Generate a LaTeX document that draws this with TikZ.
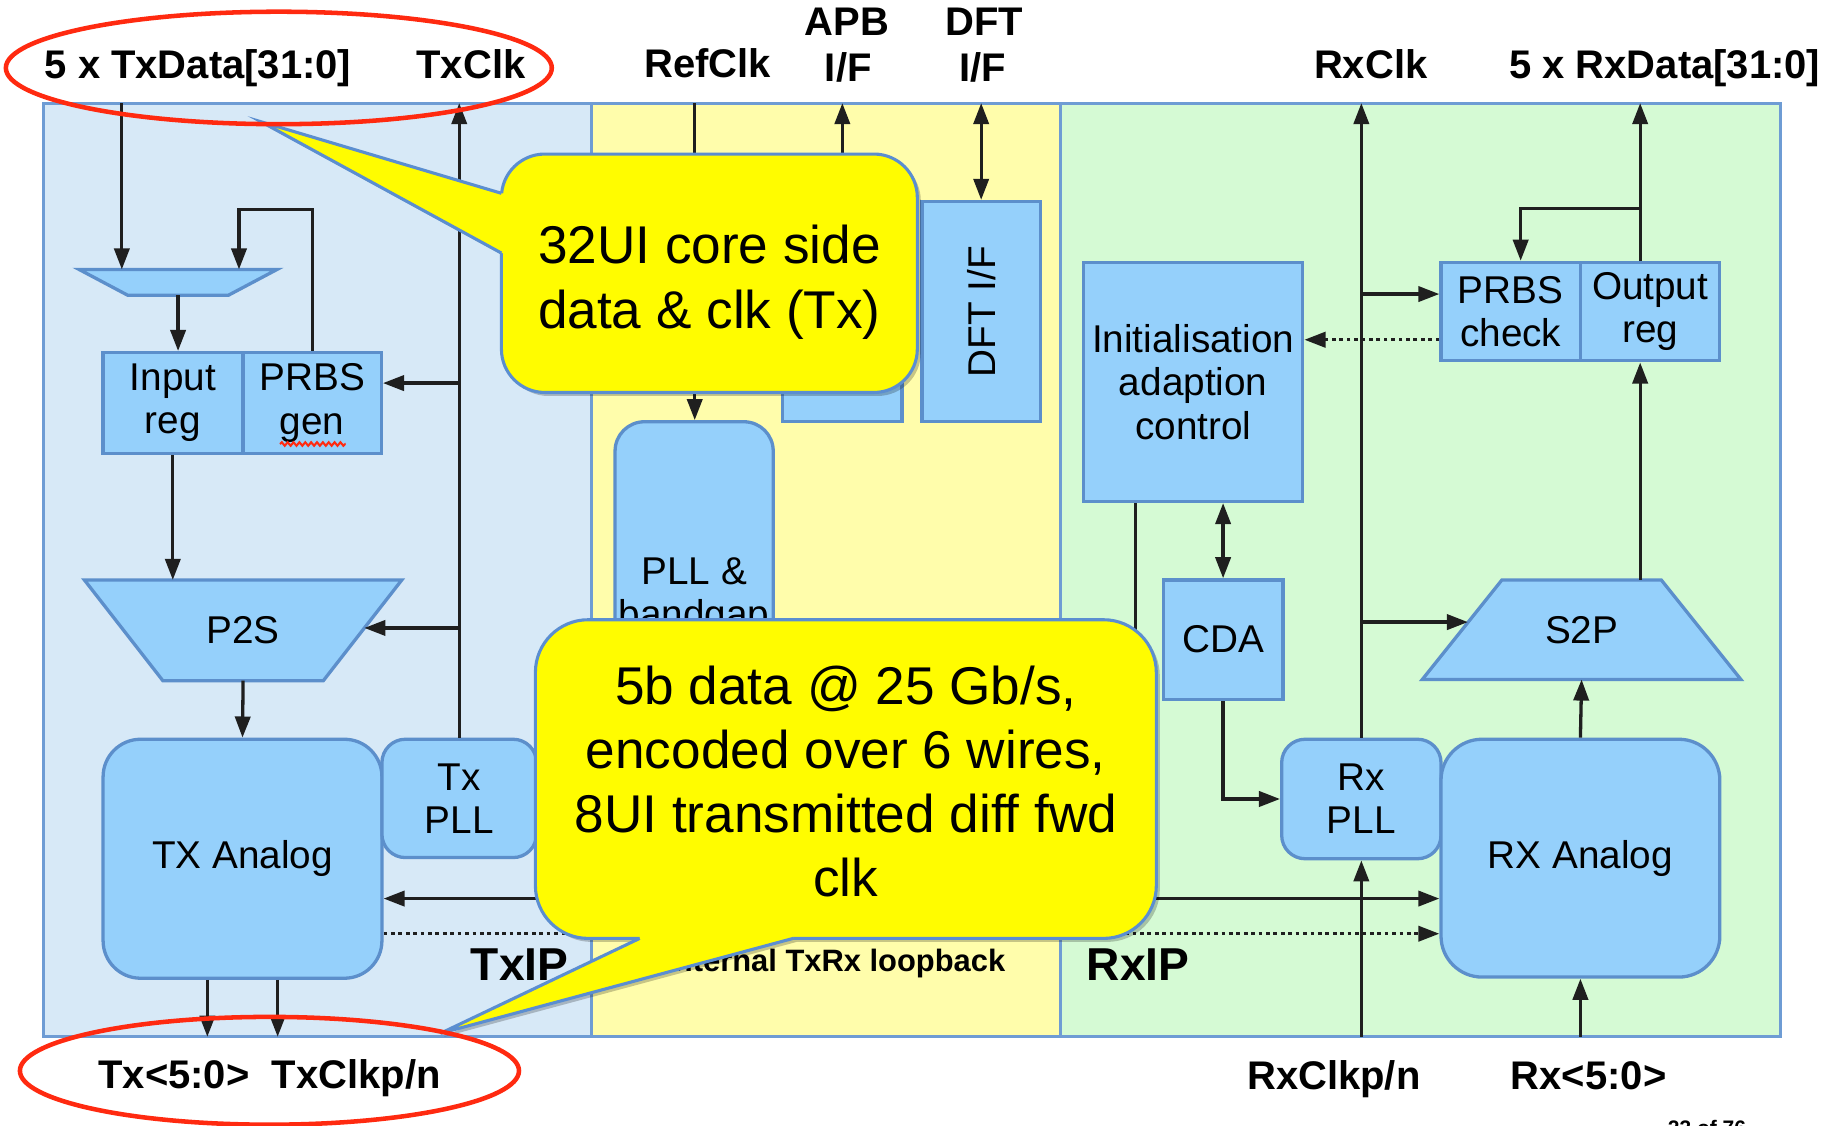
\documentclass[tikz,border=0pt]{standalone}
\usepackage{fontspec}
\setmainfont{Liberation Sans}
\usetikzlibrary{arrows.meta,calc,decorations.pathmorphing}

\definecolor{txbg}{HTML}{D7E9F7}
\definecolor{ybg}{HTML}{FFFDAB}
\definecolor{gbg}{HTML}{D5FAD4}
\definecolor{pbord}{HTML}{6E9CD4}
\definecolor{bfill}{HTML}{95D0FB}
\definecolor{bbord}{HTML}{5C8FCB}
\definecolor{cfill}{HTML}{FFFC00}
\definecolor{cbord}{HTML}{5B8ED0}
\definecolor{ered}{HTML}{FF2A10}

\newcommand\blkfont{\fontsize{9.4}{10.5}\selectfont}
\newcommand\toplblfont{\bfseries\fontsize{9.7}{11.4}\selectfont}
\newcommand\calloutfont{\fontsize{12.9}{15.6}\selectfont}
\newcommand\ipfont{\bfseries\fontsize{11.2}{13}\selectfont}
\newcommand\loopfont{\bfseries\fontsize{7.5}{9}\selectfont}
\newcommand\pagefont{\bfseries\fontsize{5.1}{6}\selectfont}

\begin{document}
\begin{tikzpicture}[x=0.01cm,y=-0.01cm,
  sz/.style 2 args={minimum width=#1*0.01cm,minimum height=#2*0.01cm},
  panel/.style={draw=pbord,line width=0.75pt,inner sep=0pt},
  blk/.style={draw=bbord,fill=bfill,line width=0.8pt,inner sep=0pt,align=center,font=\blkfont},
  blkshape/.style={draw=bbord,fill=bfill,line width=0.8pt},
  shapebox/.style={inner sep=0pt,outer sep=0pt},
  conn/.style={draw=black!88,line width=0.8pt,>={Triangle[length=0.18cm,width=0.13cm]}},
  dotc/.style={conn,dash pattern=on 0.9pt off 0.9pt},
  toplbl/.style={font=\toplblfont,anchor=base,inner sep=0pt},
  iplbl/.style={font=\ipfont,anchor=base,inner sep=0pt},
  callout/.style={draw=cbord,fill=cfill,line width=0.75pt,inner sep=0pt,align=center,font=\calloutfont},
  ctext/.style={inner sep=0pt,align=center,font=\calloutfont},
  shade/.style={fill=black,opacity=0.22}
]
\useasboundingbox (0,0) rectangle (1568,961);
\fill[white] (0,0) rectangle (1568,961);

% panels
\node[panel,fill=txbg,sz={468}{797}] (txp) at (271,486.5) {};
\node[panel,fill=ybg,sz={400}{797}] (yp) at (705,486.5) {};
\node[panel,fill=gbg,sz={615}{797}] (gp) at (1212.5,486.5) {};

% ---- Tx blocks
\node[shapebox,sz={169}{22}] (mux) at (152,241) {};
\draw[blkshape] (mux.north west) -- (mux.north east) -- ($(mux.south east)+(-41.5,0)$) -- ($(mux.south west)+(41.5,0)$) -- cycle;
\node[blk,sz={119}{86}] (inreg) at (147.5,344) {Input\\reg};
\node[blk,sz={118}{86}] (prbsgen) at (266.5,344) {PRBS\\gen};
\node[shapebox,sz={271}{86}] (p2s) at (207.5,538) {};
\draw[blkshape] (p2s.north west) -- (p2s.north east) -- ($(p2s.south east)+(-67,0)$) -- ($(p2s.south west)+(67,0)$) -- cycle;
\node[font=\blkfont,inner sep=0pt] (p2st) at (p2s.center) {P2S};
\node[blk,sz={238}{204},rounded corners=0.32cm] (txa) at (207,733) {TX Analog};
\node[blk,sz={132}{101},rounded corners=0.2cm] (txpll) at (392,681.5) {Tx\\PLL};
\draw[ered,line width=0.5pt,decorate,decoration={snake,segment length=0.05cm,amplitude=0.015cm}] (239,379) -- (295,379);

% ---- middle blocks
\node[blk,sz={135}{360},rounded corners=0.25cm] (pll) at (592.5,540) {};
\node[font=\blkfont,anchor=base,inner sep=0pt] (pllt1) at (592.5,499) {PLL \&};
\node[font=\blkfont,anchor=base,inner sep=0pt] (pllt2) at (592.5,536) {bandgap};
\node[blk,sz={102}{188}] (apb) at (719,266) {};
\node[blk,sz={101}{188}] (dft) at (837.5,266) {\rotatebox{90}{DFT I/F}};

% ---- Rx blocks
\node[blk,sz={187}{204}] (init) at (1018.5,326) {Initialisation\\adaption\\control};
\node[blk,sz={119}{84}] (prbsck) at (1289.5,266) {PRBS\\check};
\node[blk,sz={119}{84}] (outreg) at (1408.5,266) {Output\\reg};
\node[shapebox,sz={272}{85}] (s2p) at (1350,537.5) {};
\draw[blkshape] (s2p.south west) -- (s2p.south east) -- ($(s2p.north east)+(-68,0)$) -- ($(s2p.north west)+(68,0)$) -- cycle;
\node[font=\blkfont,inner sep=0pt] (s2pt) at (s2p.center) {S2P};
\node[blk,sz={102}{102}] (cda) at (1044,546) {CDA};
\node[blk,sz={136}{102},rounded corners=0.2cm] (rxpll) at (1162,682) {Rx\\PLL};
\node[blk,sz={238}{203},rounded corners=0.35cm] (rxa) at (1349,732.5) {RX Analog};

% ---- coordinates
\coordinate (txdin) at (104,88);
\coordinate (txclkout) at (392,88);
\coordinate (refin) at (593,88);
\coordinate (apbout) at (719,88);
\coordinate (dftio) at (837.5,88);
\coordinate (rxclkout) at (1162,88);
\coordinate (rxdout) at (1400,88);
\coordinate (txo1) at (177,885);
\coordinate (txo2) at (237,885);
\coordinate (rxclkin) at (1162,885);
\coordinate (rxin) at (1349,885);
\coordinate (fbtx) at (204,179);
\coordinate (fbrx) at (1298,178);
\coordinate (p2sr) at (311,536);
\coordinate (s2pl) at (1253,531);
\coordinate (yline) at (0,767);
\coordinate (ydot) at (0,797);
\coordinate (initd) at (969,767);

% ---- connectors Tx
\draw[conn,->] (txdin) -- (txdin |- mux.north);
\draw[conn,->] (prbsgen.north) |- (fbtx) -- (fbtx |- mux.north);
\draw[conn,->] (mux.south) -- (mux.south |- inreg.north);
\draw[conn,->] (txpll.north) -- (txclkout);
\draw[conn,->] ($(txpll.north |- prbsgen.east)+(0,-17)$) -- ($(prbsgen.east)+(0,-17)$);
\draw[conn,->] (txpll.north |- p2sr) -- (p2sr);
\draw[conn,->] (inreg.south) -- (inreg.south |- p2s.north);
\draw[conn,->] (p2s.south) -- (txa.north);
\draw[conn,->] (txo1 |- txa.south) -- (txo1);
\draw[conn,->] (txo2 |- txa.south) -- (txo2);
\draw[conn,<->] (txa.east |- yline) -- (rxa.west |- yline);
\draw[dotc,->] (txa.east |- ydot) -- (rxa.west |- ydot);
% middle
\draw[conn,->] (refin) -- (refin |- pll.north);
\draw[conn,->] (apb.north) -- (apbout);
\draw[conn,<->] (dftio) -- (dft.north);
% Rx
\draw[conn,->] (rxpll.north) -- (rxclkout);
\draw[conn,->] ($(rxpll.north |- prbsck.west)+(0,-15)$) -- ($(prbsck.west)+(0,-15)$);
\draw[dotc,->] ($(prbsck.west)+(0,24)$) -- ($(init.east |- prbsck.west)+(0,24)$);
\draw[conn,->] (outreg.north -| rxdout) -- (rxdout);
\draw[conn,->] (fbrx -| rxdout) -- (fbrx) -- (fbrx |- prbsck.north);
\draw[conn,->] (s2p.north -| rxdout) -- (outreg.south -| rxdout);
\draw[conn,->] (rxpll.north |- s2pl) -- (s2pl);
\draw[conn,<->] (init.south -| cda.north) -- (cda.north);
\draw[conn,->] (cda.south) |- (rxpll.west);
\draw[conn] (initd |- init.south) -- (initd);
\draw[conn,->] (rxa.north) -- (s2p.south);
\draw[conn,->] (rxclkin) -- (rxpll.south);
\draw[conn,->] (rxin) -- (rxa.south);

% ---- labels
\node[toplbl] (l1) at (169,67) {5 x TxData[31:0]};
\node[toplbl] (l2) at (402,67) {TxClk};
\node[toplbl] (l3) at (604,66) {RefClk};
\node[toplbl] (l4) at (723,30) {APB};
\node[toplbl] (l5) at (724,70) {I/F};
\node[toplbl] (l6) at (840,30) {DFT};
\node[toplbl] (l7) at (839,70) {I/F};
\node[toplbl] (l8) at (1170,67) {RxClk};
\node[toplbl] (l9) at (1421,67) {5 x RxData[31:0]};
\node[toplbl] (b1) at (148.5,929) {Tx<5:0>};
\node[toplbl] (b2) at (304,929) {TxClkp/n};
\node[toplbl] (b3) at (1138.5,930) {RxClkp/n};
\node[toplbl] (b4) at (1356,930) {Rx<5:0>};
\node[iplbl] (txip) at (443.5,836.5) {TxIP};
\node[iplbl] (rxip) at (971.5,837) {RxIP};
\node[font=\loopfont,anchor=base,inner sep=0pt] (loop) at (713,829) {Internal TxRx loopback};
\node[font=\pagefont,anchor=base,inner sep=0pt] (pg) at (1457,969) {23 of 76};

% ---- callout 1
\coordinate (t1tip) at (223,104);
\coordinate (t1a) at (428,165);
\coordinate (t1b) at (428,216);
\fill[shade] (226,107) -- (431,168) -- (431,219) -- cycle;
\fill[shade,rounded corners=0.37cm] (431,134.5) rectangle (786,338);
\node[callout,sz={355}{203.5},rounded corners=0.37cm] (c1) at (605.5,233.25) {};
\fill[cfill] (t1tip) -- (t1a) -- ($(t1a)+(3,0)$) -- ($(t1b)+(3,0)$) -- (t1b) -- cycle;
\draw[cbord,line width=0.75pt] (t1a) -- (t1tip) -- (t1b);
\node[ctext] (c1t) at (605.5,241) {32UI core side\\data \& clk (Tx)};

% ---- callout 2
\coordinate (t2tip) at (376,882);
\coordinate (t2a) at (546,801);
\coordinate (t2b) at (677,801);
\fill[shade] (379,885) -- (549,804) -- (680,804) -- cycle;
\fill[shade,rounded corners=0.45cm] (460,532) rectangle (990,804);
\node[callout,sz={530}{272},rounded corners=0.45cm] (c2) at (722,665) {};
\fill[cfill] (t2tip) -- (t2a) -- ($(t2a)+(0,-3)$) -- ($(t2b)+(0,-3)$) -- (t2b) -- cycle;
\draw[cbord,line width=0.75pt] (t2a) -- (t2tip) -- (t2b);
\node[ctext] (c2t) at (722,667) {5b data @ 25 Gb/s,\\encoded over 6 wires,\\8UI transmitted diff fwd\\clk};

% ---- red ellipses
\draw[ered,line width=1.1pt] (238,58) ellipse [x radius=233, y radius=48];
\draw[ered,line width=1.1pt] (230,914) ellipse [x radius=213, y radius=46];
\end{tikzpicture}
\end{document}
